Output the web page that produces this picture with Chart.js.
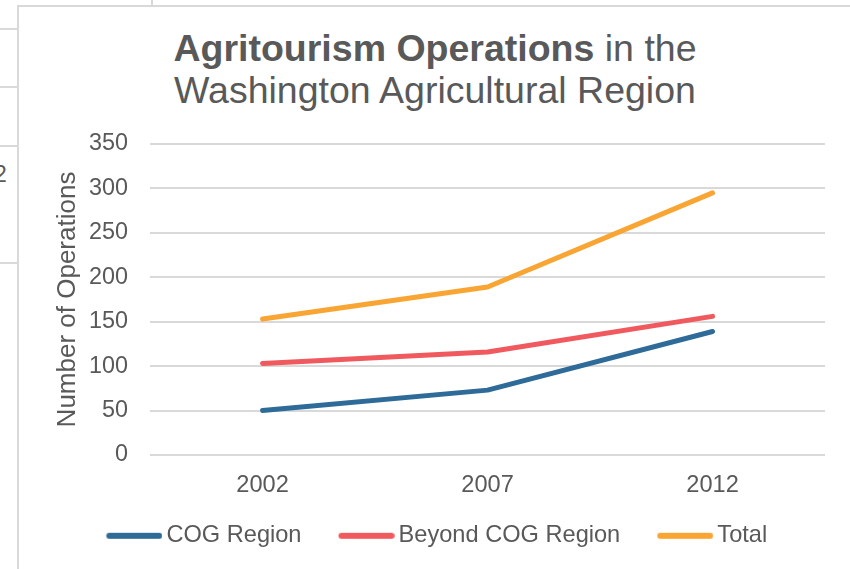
<!DOCTYPE html>
<html>
<head>
<meta charset="utf-8">
<script src="https://cdn.jsdelivr.net/npm/chart.js@4.4.1/dist/chart.umd.min.js"></script>
<style>
  html, body { margin: 0; padding: 0; background: #fff; overflow: hidden; }
  body { width: 850px; height: 569px; position: relative; font-family: 'Liberation Sans', Arial, sans-serif; }
  .cell { position: absolute; background: #d9d9d9; }
  .frame { position: absolute; left: 17px; top: 5px; width: 900px; height: 700px;
           border-left: 2px solid #d9d9d9; border-top: 2px solid #d9d9d9; }
  .title { position: absolute; left: 85px; top: 27px; width: 700px; text-align: center;
           font-size: 37.5px; line-height: 42px; color: #595959; }
  .stray { position: absolute; left: -6px; top: 161px; font-size: 23px; color: #595959; }
  #wrap { position: absolute; left: 19px; top: 7px; width: 831px; height: 600px; }
</style>
</head>
<body>
<div class="cell" style="left:0;top:28px;width:17px;height:2px"></div>
<div class="cell" style="left:0;top:86px;width:17px;height:2px"></div>
<div class="cell" style="left:0;top:145px;width:17px;height:2px"></div>
<div class="cell" style="left:0;top:262px;width:17px;height:2px"></div>
<div class="cell" style="left:151px;top:0;width:2px;height:5px"></div>
<div class="stray">2</div>
<div class="frame"></div>
<div class="title"><b>Agritourism Operations</b> in the<br>Washington Agricultural Region</div>
<div id="wrap"><canvas id="chart"></canvas></div>
<script>
var years = ['2002', '2007', '2012'];
var cogRegion = [50, 73, 139];
var beyondCog = [103, 116, 156];
var total = [153, 189, 295];
var seriesNames = ['COG Region', 'Beyond COG Region', 'Total'];
var seriesColors = ['#2e6b99', '#f05a5f', '#f9a533'];

var TEXT = '#595959';
var FONT = "'Liberation Sans', Arial, sans-serif";

// legend swatch: a 56px rounded line that sits left in a 64px image,
// so the label text comes right after it like in Excel
function swatch(color) {
    var c = document.createElement('canvas');
    c.width = 64;
    c.height = 8;
    var g = c.getContext('2d');
    g.strokeStyle = color;
    g.lineWidth = 6;
    g.lineCap = 'round';
    g.beginPath();
    g.moveTo(10.8, 4);
    g.lineTo(60.8, 4);
    g.stroke();
    return c;
}

function line(name, values, color) {
    return {
        label: name,
        data: values,
        borderColor: color,
        backgroundColor: color,
        borderWidth: 5,
        borderCapStyle: 'round',
        borderJoinStyle: 'round',
        pointRadius: 0,
        pointHoverRadius: 0,
        tension: 0,
        pointStyle: swatch(color)
    };
}

// pull the legend row up closer to the year labels
var legendNudge = {
    id: 'legendNudge',
    afterLayout: function (chart) {
        if (!chart.legend) return;
        chart.legend.top -= 14;
        chart.legend.bottom -= 14;
    }
};

new Chart(document.getElementById('chart'), {
    type: 'line',
    data: {
        labels: years,
        datasets: [
            line(seriesNames[0], cogRegion, seriesColors[0]),
            line(seriesNames[1], beyondCog, seriesColors[1]),
            line(seriesNames[2], total, seriesColors[2])
        ]
    },
    plugins: [legendNudge],
    options: {
        responsive: true,
        maintainAspectRatio: false,
        animation: false,
        layout: { padding: { left: 29.5, right: 25, top: 137, bottom: 35.4 } },
        plugins: {
            legend: {
                position: 'bottom',
                labels: {
                    usePointStyle: true,
                    pointStyleWidth: 48.3,
                    padding: 37,
                    color: TEXT,
                    font: { family: FONT, size: 23.6 }
                }
            },
            tooltip: { enabled: false }
        },
        scales: {
            x: {
                offset: true,
                grid: { display: false, drawTicks: false },
                border: { display: false },
                ticks: { color: TEXT, padding: 16, font: { family: FONT, size: 23.6 } },
                afterFit: function (scale) { scale.height = 46; }
            },
            y: {
                min: 0,
                max: 350,
                grid: { color: '#d9d9d9', lineWidth: 2, drawTicks: false },
                border: { display: false },
                ticks: { stepSize: 50, color: TEXT, padding: 22, font: { family: FONT, size: 23.4 } },
                title: {
                    display: true,
                    text: 'Number of Operations',
                    color: TEXT,
                    padding: { top: 4, bottom: 5 },
                    font: { family: FONT, size: 26 }
                },
                afterFit: function (scale) { scale.width = 101.6; }
            }
        }
    }
});
</script>
</body>
</html>
